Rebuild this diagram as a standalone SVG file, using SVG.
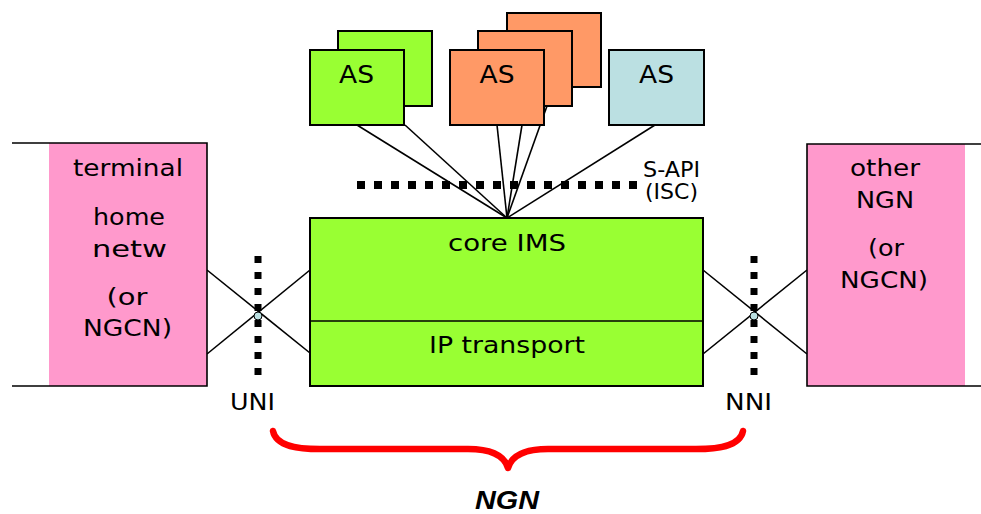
<svg xmlns="http://www.w3.org/2000/svg" width="981" height="514" viewBox="0 0 981 514">
<style>
  .t { font-family: "DejaVu Sans", Verdana, sans-serif; fill: #000; text-anchor: middle; }
  .box { stroke: #000; stroke-width: 2; }
  .green { fill: #99ff33; }
  .orange { fill: #ff9966; }
  .blue { fill: #bbe0e2; }
  .pink { fill: #ff99cc; }
  .ln { stroke: #000; stroke-width: 1.6; fill: none; }
  .dot { stroke: #000; fill: none; }
</style>
<rect width="981" height="514" fill="#fff"/>

<g id="connectors">
  <line class="ln" x1="357" y1="125" x2="507" y2="218"/>
  <line class="ln" x1="405" y1="125" x2="507" y2="218"/>
  <line class="ln" x1="497" y1="125" x2="507" y2="218"/>
  <line class="ln" x1="522" y1="125" x2="507" y2="218"/>
  <line class="ln" x1="547" y1="106" x2="507" y2="218"/>
  <line class="ln" x1="655" y1="125" x2="507" y2="218"/>
  <line class="ln" x1="207" y1="270" x2="310" y2="353"/>
  <line class="ln" x1="207" y1="354" x2="310" y2="270"/>
  <line class="ln" x1="703" y1="270" x2="807" y2="354"/>
  <line class="ln" x1="703" y1="354" x2="807" y2="270"/>
</g>

<g id="s-api">
  <line class="dot" x1="357" y1="185" x2="645" y2="185" stroke-width="8" stroke-dasharray="8 9"/>
  <text class="t" x="643" y="177" font-size="20.5" style="text-anchor:start" textLength="57" lengthAdjust="spacingAndGlyphs">S-API</text>
  <text class="t" x="645" y="199" font-size="20.5" style="text-anchor:start" textLength="53" lengthAdjust="spacingAndGlyphs">(ISC)</text>
</g>

<g id="as-green">
  <rect class="box green" x="338" y="31" width="94" height="75"/>
  <rect class="box green" x="310" y="50" width="94" height="75"/>
  <text class="t" x="356.5" y="83" font-size="25" textLength="35" lengthAdjust="spacingAndGlyphs">AS</text>
</g>

<g id="as-orange">
  <rect class="box orange" x="507" y="13" width="94" height="74"/>
  <rect class="box orange" x="478" y="31" width="94" height="75"/>
  <rect class="box orange" x="450" y="50" width="94" height="75"/>
  <text class="t" x="497" y="83" font-size="25" textLength="35" lengthAdjust="spacingAndGlyphs">AS</text>
</g>

<g id="as-blue">
  <rect class="box blue" x="609" y="50" width="95" height="75"/>
  <text class="t" x="656.5" y="83" font-size="25" textLength="35" lengthAdjust="spacingAndGlyphs">AS</text>
</g>

<g id="core">
  <rect class="box green" x="310" y="218" width="393" height="168"/>
  <line class="ln" x1="310" y1="321" x2="703" y2="321" stroke-width="2"/>
  <text class="t" x="507" y="251" font-size="23.5" textLength="118" lengthAdjust="spacingAndGlyphs">core IMS</text>
  <text class="t" x="507" y="353" font-size="23.5" textLength="156" lengthAdjust="spacingAndGlyphs">IP transport</text>
</g>

<g id="terminal">
  <rect class="pink" x="49" y="143" width="158" height="243"/>
  <path class="ln" d="M12,143 H207 V386 H12" stroke-width="2"/>
  <text class="t" x="128" y="176" font-size="23.5" textLength="110" lengthAdjust="spacingAndGlyphs">terminal</text>
  <text class="t" x="129" y="225" font-size="23.5" textLength="72" lengthAdjust="spacingAndGlyphs">home</text>
  <text class="t" x="129.5" y="257" font-size="23.5" textLength="75" lengthAdjust="spacingAndGlyphs">netw</text>
  <text class="t" x="127" y="305" font-size="23.5" textLength="41" lengthAdjust="spacingAndGlyphs">(or</text>
  <text class="t" x="127.5" y="336" font-size="23.5" textLength="89" lengthAdjust="spacingAndGlyphs">NGCN)</text>
</g>

<g id="other-ngn">
  <rect class="pink" x="807" y="144" width="158" height="242"/>
  <path class="ln" d="M981,144 H807 V386 H981" stroke-width="2"/>
  <text class="t" x="885" y="176" font-size="23.5" textLength="70" lengthAdjust="spacingAndGlyphs">other</text>
  <text class="t" x="885" y="208" font-size="23.5" textLength="58" lengthAdjust="spacingAndGlyphs">NGN</text>
  <text class="t" x="886" y="256" font-size="23.5" textLength="36" lengthAdjust="spacingAndGlyphs">(or</text>
  <text class="t" x="884" y="288" font-size="23.5" textLength="88" lengthAdjust="spacingAndGlyphs">NGCN)</text>
</g>

<g id="uni">
  <line class="dot" x1="258" y1="256" x2="258" y2="377" stroke-width="7" stroke-dasharray="7 9"/>
  <circle cx="258" cy="316" r="4" fill="#bbe0e2" stroke="#000" stroke-width="1"/>
  <text class="t" x="252.5" y="410" font-size="23" textLength="45" lengthAdjust="spacingAndGlyphs">UNI</text>
</g>

<g id="nni">
  <line class="dot" x1="754" y1="256" x2="754" y2="377" stroke-width="7" stroke-dasharray="7 9"/>
  <circle cx="754" cy="316" r="4" fill="#bbe0e2" stroke="#000" stroke-width="1"/>
  <text class="t" x="748.5" y="410" font-size="23" textLength="47" lengthAdjust="spacingAndGlyphs">NNI</text>
</g>

<g id="ngn">
  <path d="M273,431 C276,447 300,449 320,449 L468,449 C495,449 505,458 508,468 C511,458 521,449 548,449 L696,449 C716,449 740,447 743,431" fill="none" stroke="#ff0000" stroke-width="6.5" stroke-linecap="round" stroke-linejoin="round"/>
  <text x="507" y="509" font-family="'Liberation Sans', Arial, sans-serif" font-weight="bold" font-style="italic" font-size="25" text-anchor="middle" textLength="64" lengthAdjust="spacingAndGlyphs">NGN</text>
</g>
</svg>
